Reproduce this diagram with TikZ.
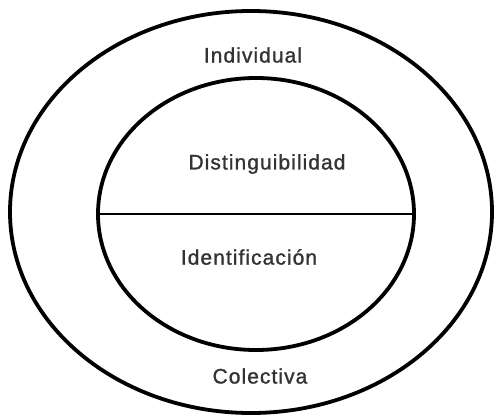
\documentclass[tikz,border=0pt]{standalone}
\usepackage{fontspec}
\setmainfont{Liberation Sans}[LetterSpace=5,FakeBold=1.2]
\usetikzlibrary{shapes.geometric}

\begin{document}
\begin{tikzpicture}[x=1pt,y=-1pt]
	\useasboundingbox (0,0) rectangle (495,417);
	\tikzset{ring/.style={shape=ellipse,draw=black,line width=3.8pt,inner sep=0pt},
		label/.style={font=\fontsize{21}{24}\selectfont,text=black!80}}

	\node[ring,minimum width=482,minimum height=402] (outer) at (251,212) {};
	\node[ring,minimum width=316,minimum height=272] (inner) at (256,214) {};

	\node[label] (ind) at (253,55)  {Individual};
	\node[label] (dis) at (267,164) {Distinguibilidad};
	\node[label] (ide) at (249,257) {Identificación};
	\node[label] (col) at (260,376) {Colectiva};

	\path[-,line width=2pt] (inner.west) edge (inner.east);

\end{tikzpicture}
\end{document}
